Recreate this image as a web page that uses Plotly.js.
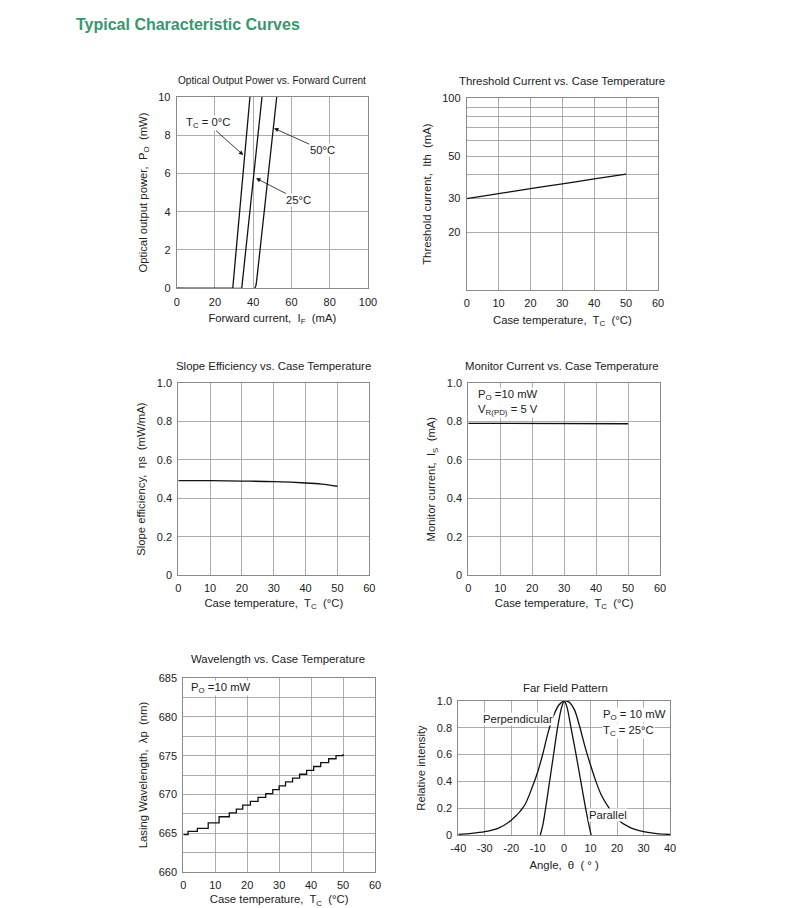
<!DOCTYPE html>
<html><head><meta charset="utf-8">
<script src="https://cdn.plot.ly/plotly-3.0.1.min.js"></script>
<style>html,body{margin:0;padding:0;background:#fff;}#chart{width:794px;height:908px;}</style>
</head><body><div id="chart"></div>
<script>
// ---------- DATA ----------
// Optical output power vs forward current
const iF0 = [0, 29.3, 38.3];
const po0 = [0, 0, 10];
const iF25 = [0, 34.0, 44.6];
const po25 = [0, 0, 10];
const iF50 = [0, 40.6, 41.3, 41.8, 52.3];
const po50 = [0, 0, 0.1, 0.4, 10];
// Threshold current vs case temperature
const tcTh = [0, 10, 20, 30, 40, 50];
const ith = [30, 31.8, 33.8, 35.8, 38, 40.2];
// Slope efficiency vs case temperature
const tcEta = [0, 10, 20, 30, 40, 45, 50];
const eta = [0.492, 0.492, 0.49, 0.487, 0.48, 0.474, 0.463];
// Monitor current vs case temperature
const tcMon = [0, 15, 50];
const imon = [0.791, 0.79, 0.789];
// Wavelength vs case temperature (stepped)
const tcWl = [0, 1.5, 4.4, 7.8, 11.2, 14.4, 16.6, 18.6, 21, 23.4, 25.8, 28, 30, 32, 34.2, 36.4, 38.6, 40.8, 43, 45.5, 47.8, 50];
const wl = [664.8, 665.2, 665.6, 666.3, 667.1, 667.6, 668.1, 668.6, 669.1, 669.6, 670.1, 670.6, 671.1, 671.6, 672.1, 672.6, 673.1, 673.6, 674.1, 674.6, 675.0, 675.2];
// Far field pattern
const angPerp = [-40, -35, -30, -25, -20, -15, -12, -10, -8, -6, -4, -2, 0, 1, 2, 4, 6, 8, 10, 12, 14, 17, 20, 25, 30, 35, 40];
const intPerp = [0.005, 0.012, 0.025, 0.05, 0.11, 0.22, 0.36, 0.47, 0.61, 0.77, 0.89, 0.97, 1.0, 1.0, 0.99, 0.93, 0.8, 0.65, 0.52, 0.4, 0.3, 0.2, 0.12, 0.055, 0.025, 0.01, 0.004];
const angPar = [-9, -8, -7, -5.5, -4, -2.5, -1, 0, 1, 2.6, 4.5, 6.3, 8.1, 9.3, 10.2];
const intPar = [0, 0.08, 0.2, 0.4, 0.6, 0.8, 0.95, 1.0, 0.96, 0.8, 0.6, 0.4, 0.2, 0.08, 0];
// Tick labels
const yTicks1 = [0, 2, 4, 6, 8, 10];
const xTicks1 = [0, 20, 40, 60, 80, 100];
const tcTicks = [0, 10, 20, 30, 40, 50, 60];
const thTickVals = [20, 30, 50, 100];
const thMinorVals = [40, 60, 70, 80, 90];
const fracTickVals = [0, 0.2, 0.4, 0.6, 0.8, 1.0];
const fracTickText = ['0', '0.2', '0.4', '0.6', '0.8', '1.0'];
const wlTickVals = [660, 665, 670, 675, 680, 685];
const wlMinorVals = [662.5, 667.5, 672.5, 677.5, 682.5];
const angTicks = [-40, -30, -20, -10, 0, 10, 20, 30, 40];
const angTickText = ['-40', '-30', '-20', '-10', '0', '10', '20', '30', '40'];

// ---------- LAYOUT HELPERS ----------
const W = 794, H = 908;
const FONT = 'Liberation Sans, Arial, Helvetica, sans-serif';
const px = x => x / W;
const py = y => 1 - y / H;
const dx = (a, b) => [a / W, b / W];
const dy = (top, bot) => [1 - bot / H, 1 - top / H];
const GRID = '#a3a3a3';

function axis(extra) {
  return Object.assign({
    showline: true, mirror: true, linecolor: '#8a8a8a', linewidth: 1,
    showgrid: true, gridcolor: GRID, gridwidth: 0.9, zeroline: false,
    ticks: 'outside', ticklen: 3, tickcolor: 'rgba(0,0,0,0)',
    tickfont: {family: FONT, size: 11, color: '#222'}, fixedrange: true
  }, extra);
}
function ttl(text, standoff) {
  return {text: text, standoff: standoff, font: {family: FONT, size: 11.3, color: '#222'}};
}
const line = {color: '#111', width: 1.3};

const traces = [
  {x: iF0, y: po0, xaxis: 'x', yaxis: 'y', mode: 'lines', line: line, name: 'Tc=0°C'},
  {x: iF25, y: po25, xaxis: 'x', yaxis: 'y', mode: 'lines', line: line, name: 'Tc=25°C'},
  {x: iF50, y: po50, xaxis: 'x', yaxis: 'y', mode: 'lines', line: Object.assign({shape: 'spline', smoothing: 0.6}, line), name: 'Tc=50°C'},
  {x: tcTh, y: ith, xaxis: 'x2', yaxis: 'y2', mode: 'lines', line: Object.assign({shape: 'spline'}, line), name: 'Ith'},
  {x: tcEta, y: eta, xaxis: 'x3', yaxis: 'y3', mode: 'lines', line: Object.assign({shape: 'spline'}, line), name: 'ηs'},
  {x: tcMon, y: imon, xaxis: 'x4', yaxis: 'y4', mode: 'lines', line: line, name: 'Is'},
  {x: tcWl, y: wl, xaxis: 'x5', yaxis: 'y5', mode: 'lines', line: Object.assign({shape: 'hv'}, line), name: 'λp'},
  {x: angPerp, y: intPerp, xaxis: 'x6', yaxis: 'y6', mode: 'lines', line: Object.assign({shape: 'spline', smoothing: 0.8}, line), name: 'Perpendicular'},
  {x: angPar, y: intPar, xaxis: 'x6', yaxis: 'y6', mode: 'lines', line: Object.assign({shape: 'spline', smoothing: 0.8}, line), name: 'Parallel'}
];

const afont = {family: FONT, size: 11.3, color: '#222'};
const tfont = {family: FONT, size: 11.4, color: '#222'};
function note(text, x, y, xanchor, font, bg) {
  return {text: text, xref: 'paper', yref: 'paper', x: px(x), y: py(y), xanchor: xanchor || 'center', yanchor: 'middle',
          showarrow: false, font: font || afont, bgcolor: bg ? '#fff' : 'rgba(0,0,0,0)', borderpad: 0};
}
function arrowNote(text, xh, yh, xt, yt) {
  return {text: text, xref: 'x', yref: 'y', x: xh, y: yh, axref: 'x', ayref: 'y', ax: xt, ay: yt,
          showarrow: true, arrowhead: 2, arrowsize: 1.1, arrowwidth: 0.8, arrowcolor: '#111',
          font: afont, bgcolor: '#fff', borderpad: 0};
}

const annotations = [
  note('Optical Output Power vs. Forward Current', 272, 81, 'center', {family: FONT, size: 10.1, color: '#222'}),
  note('Threshold Current vs. Case Temperature', 562, 81, 'center', tfont),
  note('Slope Efficiency vs. Case Temperature', 273, 366, 'center', tfont),
  note('Monitor Current vs. Case Temperature', 562, 366, 'center', tfont),
  note('Wavelength vs. Case Temperature', 278, 659, 'center', tfont),
  note('Far Field Pattern', 565, 688, 'center', tfont),
  arrowNote('T<sub>C</sub> = 0°C', 34.8, 6.96, 16.1, 8.62),
  arrowNote('50°C', 50.9, 8.35, 76, 7.22),
  arrowNote('25°C', 41.5, 5.74, 63.7, 4.61),
  note('P<sub>O</sub> =10 mW', 477, 395, 'left', afont, true),
  note('V<sub>R(PD)</sub> = 5 V', 477, 410, 'left', afont, true),
  note('P<sub>O</sub> =10 mW', 190, 688, 'left', afont, true),
  note('Perpendicular', 482, 719, 'left', afont, true),
  note('P<sub>O</sub> = 10 mW', 602, 715, 'left', afont, true),
  note('T<sub>C</sub> = 25°C', 602, 731, 'left', afont, true),
  note('Parallel', 588, 815, 'left', afont, true)
];

const layout = {
  width: W, height: H,
  margin: {l: 0, r: 0, t: 0, b: 0},
  paper_bgcolor: '#fff', plot_bgcolor: '#fff',
  showlegend: false,
  font: {family: FONT, color: '#222'},
  title: {text: 'Typical Characteristic Curves', x: px(76), xanchor: 'left', xref: 'paper', y: py(24), yref: 'paper', yanchor: 'middle',
          font: {family: FONT, size: 16, weight: 'bold', color: '#35996c'}},
  xaxis: axis({domain: dx(176.7, 368), anchor: 'y', range: [0, 100], tickvals: xTicks1, title: ttl('Forward current,  I<sub>F</sub>  (mA)', 7)}),
  yaxis: axis({domain: dy(96.7, 288.3), anchor: 'x', range: [0, 10], tickvals: yTicks1, title: ttl('Optical output power,  P<sub>O</sub>  (mW)', 8)}),
  xaxis2: axis({domain: dx(466.7, 658), anchor: 'y2', range: [0, 60], tickvals: tcTicks, title: ttl('Case temperature,  T<sub>C</sub>  (°C)', 7)}),
  yaxis2: axis({domain: dy(98.3, 290), anchor: 'x2', type: 'log', range: [1, 2], tickvals: thTickVals, ticktext: thTickVals.map(String),
                minor: {tickvals: thMinorVals, showgrid: true, gridcolor: GRID, gridwidth: 0.9, ticks: ''}, title: ttl('Threshold current,  Ith  (mA)', 8)}),
  xaxis3: axis({domain: dx(178.3, 369.3), anchor: 'y3', range: [0, 60], tickvals: tcTicks, title: ttl('Case temperature,  T<sub>C</sub>  (°C)', 5)}),
  yaxis3: axis({domain: dy(383.3, 575), anchor: 'x3', range: [0, 1], tickvals: fracTickVals, ticktext: fracTickText, title: ttl('Slope efficiency,  ηs  (mW/mA)', 8)}),
  xaxis4: axis({domain: dx(468.3, 660), anchor: 'y4', range: [0, 60], tickvals: tcTicks, title: ttl('Case temperature,  T<sub>C</sub>  (°C)', 5)}),
  yaxis4: axis({domain: dy(383.3, 575), anchor: 'x4', range: [0, 1], tickvals: fracTickVals, ticktext: fracTickText, title: ttl('Monitor current,  I<sub>S</sub>  (mA)', 8)}),
  xaxis5: axis({domain: dx(183.3, 375), anchor: 'y5', range: [0, 60], tickvals: tcTicks, title: ttl('Case temperature,  T<sub>C</sub>  (°C)', 5)}),
  yaxis5: axis({domain: dy(678.3, 871.7), anchor: 'x5', range: [660, 685], tickvals: wlTickVals, ticktext: wlTickVals.map(String),
                minor: {tickvals: wlMinorVals, showgrid: true, gridcolor: GRID, gridwidth: 0.9, ticks: ''}, title: ttl('Lasing Wavelength,  λp  (nm)', 8)}),
  xaxis6: axis({domain: dx(458.3, 670), anchor: 'y6', range: [-40, 40], tickvals: angTicks, ticktext: angTickText, title: ttl('Angle,  θ  ( ° )', 7)}),
  yaxis6: axis({domain: dy(701, 835), anchor: 'x6', range: [0, 1], tickvals: fracTickVals, ticktext: fracTickText, title: ttl('Relative intensity', 8)}),
  annotations: annotations
};

Plotly.newPlot('chart', traces, layout, {displayModeBar: false, staticPlot: true});
</script>
</body></html>
